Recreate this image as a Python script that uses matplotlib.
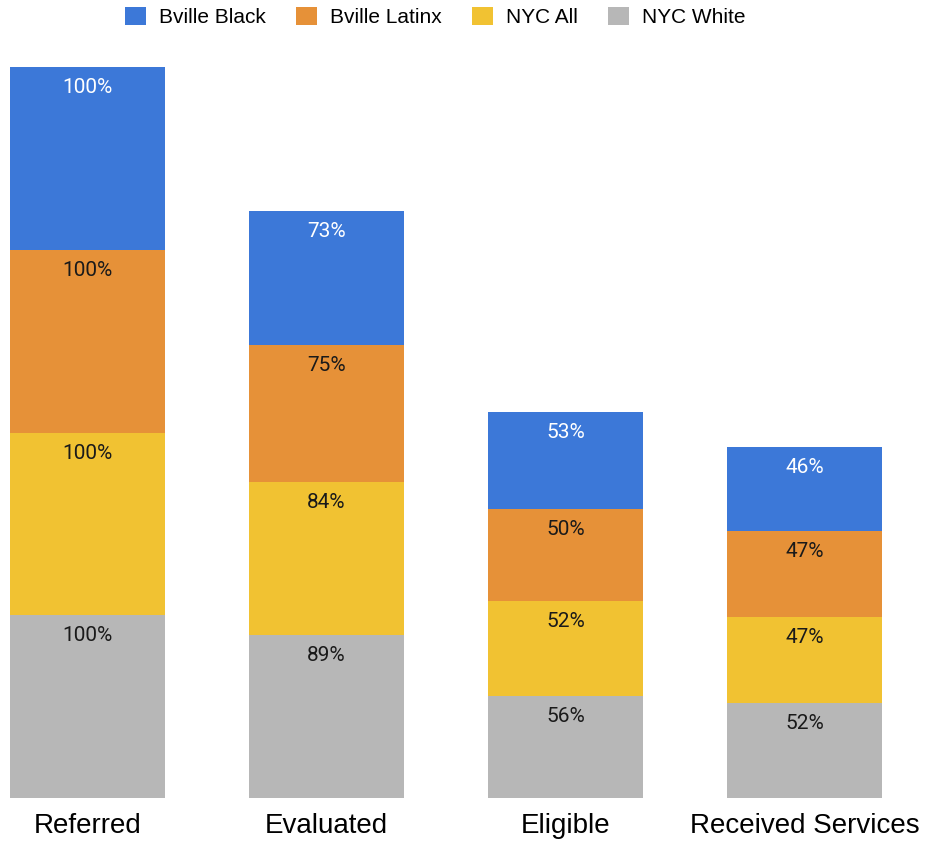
import matplotlib.pyplot as plt
import numpy as np

categories = ['Referred', 'Evaluated', 'Eligible', 'Received Services']
series_names = ['Bville Black', 'Bville Latinx', 'NYC All', 'NYC White']
bville_black = [100, 73, 53, 46]
bville_latinx = [100, 75, 50, 47]
nyc_all = [100, 84, 52, 47]
nyc_white = [100, 89, 56, 52]

colors = {'Bville Black': '#3c78d8', 'Bville Latinx': '#e69138',
          'NYC All': '#f1c232', 'NYC White': '#b7b7b7'}
text_colors = {'Bville Black': 'white', 'Bville Latinx': '#1a1a1a',
               'NYC All': '#1a1a1a', 'NYC White': '#1a1a1a'}

W, H = 928, 846
fig = plt.figure(figsize=(W / 100, H / 100), dpi=100)

# axes geometry in pixels
base_px = 798
top_px = 50
px_per_unit = 731 / 400
ax = fig.add_axes([0, (H - base_px) / H, 1, (base_px - top_px) / H])
ax.set_ylim(0, (base_px - top_px) / px_per_unit)
ax.set_xlim(-87.5 / 239, (W - 87.5) / 239)

x = np.arange(len(categories))
width = 155 / 239

# stack from bottom: NYC White, NYC All, Bville Latinx, Bville Black
stack = [('NYC White', nyc_white), ('NYC All', nyc_all),
         ('Bville Latinx', bville_latinx), ('Bville Black', bville_black)]
bottom = np.zeros(len(categories))
handles = {}
for name, vals in stack:
    vals = np.array(vals, dtype=float)
    bars = ax.bar(x, vals, width, bottom=bottom, color=colors[name],
                  linewidth=0, label=name)
    handles[name] = bars
    for xi, b, v in zip(x, bottom, vals):
        ax.annotate(f'{int(v)}%', (xi, b + v), xytext=(0, -26),
                    textcoords='offset pixels', ha='center', va='baseline',
                    fontsize=15, family=['Roboto', 'DejaVu Sans'],
                    color=text_colors[name])
    bottom += vals

ax.set_xticks(x)
ax.set_xticklabels(categories, fontsize=20, family=['Liberation Sans', 'DejaVu Sans'])
ax.tick_params(axis='x', length=0, pad=11)
ax.set_yticks([])
for s in ax.spines.values():
    s.set_visible(False)

leg = fig.legend([handles[n] for n in series_names], series_names,
                 loc='center', bbox_to_anchor=(435 / W, 1 - 17 / H),
                 ncol=4, frameon=False,
                 prop={'family': ['Liberation Sans', 'DejaVu Sans'], 'size': 15},
                 handlelength=1.0, handleheight=1.0, handletextpad=0.63,
                 columnspacing=1.45)

fig.savefig('out.png', dpi=100)
